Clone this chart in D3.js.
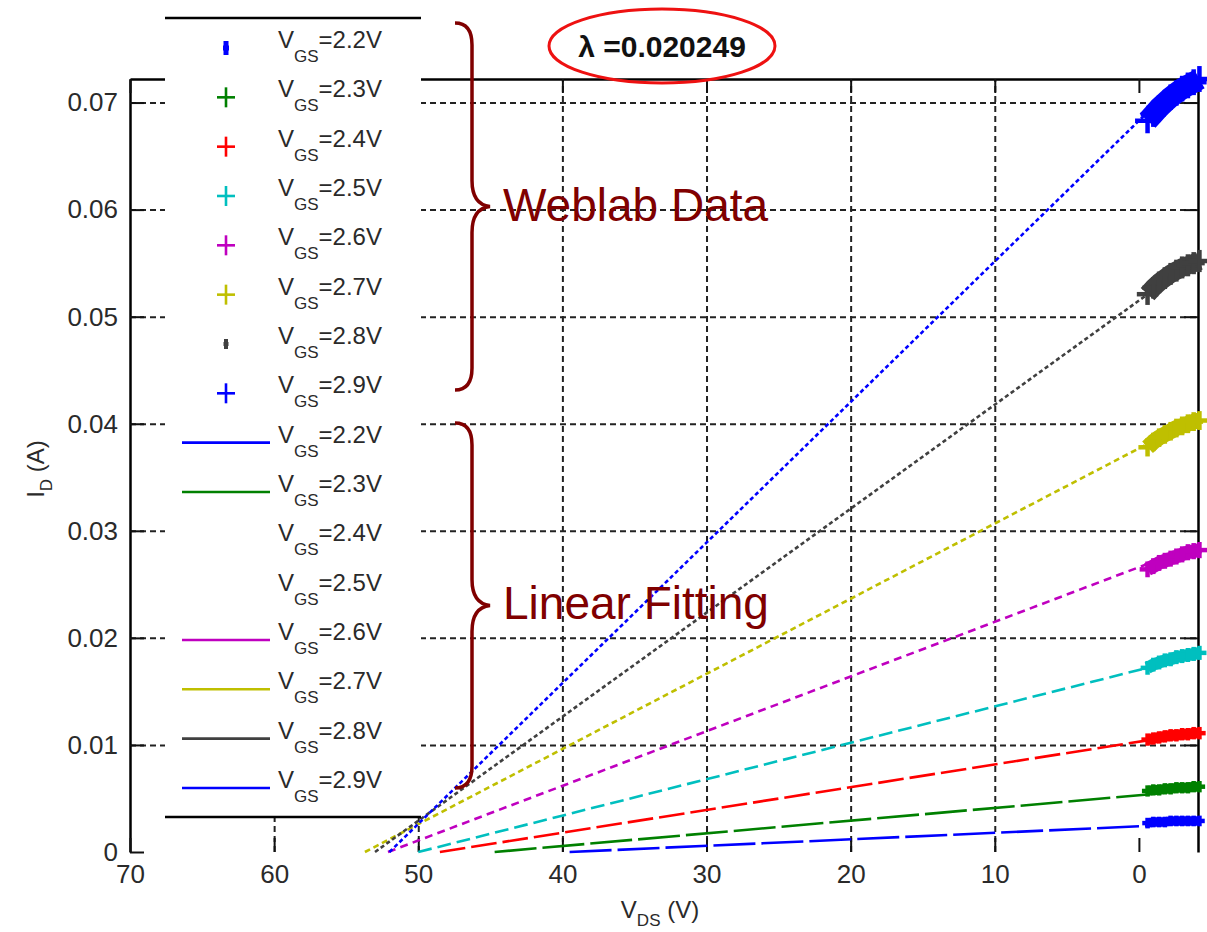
<!DOCTYPE html>
<html>
<head>
<meta charset="utf-8">
<script src="https://cdn.jsdelivr.net/npm/d3@7"></script>
<style>
  html, body { margin: 0; padding: 0; background: #fff; }
  svg { display: block; font-family: "Liberation Sans", Arial, sans-serif; }
  .ax .domain { stroke: #000; stroke-width: 2.5; }
  .ax line { stroke: #111; stroke-width: 2; }
  .ax text { fill: #2a2a2a; font-size: 26px; font-family: "Liberation Sans", Arial, sans-serif; }
  .grid line { stroke: #222; stroke-width: 2; stroke-dasharray: 6 4; }
  .grid .domain { display: none; }
</style>
</head>
<body>
<div id="chart"></div>
<script>
// ---- data ----
var vgsLabels = ["2.2V", "2.3V", "2.4V", "2.5V", "2.6V", "2.7V", "2.8V", "2.9V"];
var seriesColors = ["#0000ff", "#008000", "#ff0000", "#00bfbf", "#bf00bf", "#bfbf00", "#404040", "#0000ff"];
var markerKind = ["dot", "plus", "plus", "plus", "plus", "plus", "dot", "plus"];
var fitInLegend = [true, true, false, false, true, true, true, true];

// measured V_DS (V) of the Weblab points
var vds = [0.6, 1.0, 1.4, 1.8, 2.2, 2.6, 3.0, 3.4, 3.8, 4.2];
// measured I_D (A) per V_GS
var id22 = [0.0027, 0.0028, 0.0028, 0.0028, 0.0029, 0.0029, 0.0029, 0.0029, 0.0029, 0.0029];
var id23 = [0.0057, 0.0058, 0.0058, 0.0059, 0.0059, 0.0060, 0.0060, 0.0060, 0.0061, 0.0061];
var id24 = [0.0105, 0.0106, 0.0107, 0.0108, 0.0109, 0.0109, 0.0110, 0.0110, 0.0111, 0.0111];
var id25 = [0.0172, 0.0175, 0.0177, 0.0179, 0.0180, 0.0182, 0.0183, 0.0184, 0.0185, 0.0186];
var id26 = [0.0264, 0.0267, 0.0270, 0.0272, 0.0274, 0.0276, 0.0278, 0.0280, 0.0281, 0.0282];
var id27 = [0.0378, 0.0383, 0.0387, 0.0390, 0.0393, 0.0396, 0.0398, 0.0400, 0.0402, 0.0403];
var id28 = [0.0521, 0.0527, 0.0532, 0.0536, 0.0540, 0.0543, 0.0546, 0.0548, 0.0550, 0.0552];
var id29 = [0.0683, 0.0689, 0.0695, 0.0700, 0.0705, 0.0709, 0.0713, 0.0716, 0.0719, 0.0722];

// linear fits: V_DS where the line hits I_D = 0, and I_D at V_DS = 0
var fitStart = [-39.5, -44.7, -48.5, -50.0, -52.1, -53.7, -53.0, -52.0];
var fitI0 = [0.0024, 0.0053, 0.0103, 0.0170, 0.0266, 0.0377, 0.0515, 0.0683];
var fitEnd = 0.6;

var xTicks = [-70, -60, -50, -40, -30, -20, -10, 0];
var xGrid = [-60, -50, -40, -30, -20, -10];
var yTicks = [0, 0.01, 0.02, 0.03, 0.04, 0.05, 0.06, 0.07];
var lambdaText = "\u03bb =0.020249";

(function () {
  "use strict";
  var W = 1207, H = 932;
  var L = 130, R = 1198, T = 79, B = 852;
  var svg = d3.select("#chart").append("svg").attr("width", W).attr("height", H);

  var x = d3.scaleLinear().domain([-70, 4.1]).range([L, R]);
  var y = d3.scaleLinear().domain([0, 0.0722]).range([B, T]);

  var series = [id22, id23, id24, id25, id26, id27, id28, id29].map(function (vals, i) {
    return {
      label: vgsLabels[i], color: seriesColors[i],
      pts: vds.map(function (v, j) { return { v: v, i: vals[j] }; }),
      start: fitStart[i], i0: fitI0[i]
    };
  });

  // ---- grid (dashed) ----
  svg.append("g").attr("class", "grid")
    .attr("transform", "translate(" + L + ",0)")
    .call(d3.axisLeft(y).tickValues(yTicks.slice(1)).tickSize(-(R - L)).tickFormat(""));
  svg.append("g").attr("class", "grid")
    .attr("transform", "translate(0," + B + ")")
    .call(d3.axisBottom(x).tickValues(xGrid).tickSize(-(B - T)).tickFormat(""));

  // ---- axes: inward ticks all round, no bottom rule ----
  svg.append("g").attr("class", "ax")
    .attr("transform", "translate(" + L + ",0)")
    .call(d3.axisLeft(y).tickValues(yTicks).tickSize(-14).tickSizeOuter(0).tickPadding(12)
      .tickFormat(function (d) { return d === 0 ? "0" : d.toFixed(2); }));
  svg.append("g").attr("class", "ax")
    .attr("transform", "translate(" + R + ",0)")
    .call(d3.axisRight(y).tickValues(yTicks.slice(1)).tickSize(-14).tickSizeOuter(0).tickFormat(""));
  svg.append("g").attr("class", "ax")
    .attr("transform", "translate(0," + T + ")")
    .call(d3.axisTop(x).tickValues(xTicks).tickSize(-14).tickSizeOuter(0).tickFormat(""));
  var xb = svg.append("g").attr("class", "ax")
    .attr("transform", "translate(0," + B + ")")
    .call(d3.axisBottom(x).tickValues(xTicks).tickSize(-14).tickPadding(13)
      .tickFormat(function (d) { return Math.abs(d); }));
  xb.select(".domain").remove();

  // ---- fitted lines; dash length follows the slope to mimic the jagged raster ----
  var gLines = svg.append("g");
  series.forEach(function (s) {
    var x1 = x(s.start), y1 = y(0);
    var x2 = x(fitEnd), y2 = y(s.i0 * (1 - fitEnd / s.start));
    var slope = Math.abs((y2 - y1) / (x2 - x1));
    var period = Math.max(7, Math.min(48, 5 / slope));
    var gap = Math.min(period * 0.4, 6);
    gLines.append("line")
      .attr("x1", x1).attr("y1", y1).attr("x2", x2).attr("y2", y2)
      .attr("stroke", s.color).attr("stroke-width", 2.6)
      .attr("stroke-dasharray", (period - gap).toFixed(1) + " " + gap.toFixed(1));
  });

  // ---- Weblab points: a thick band through the points plus '+' markers -> solid blobs ----
  function plus(g, cx, cy, ax, ay, color, sw) {
    g.append("line").attr("x1", cx - ax).attr("x2", cx + ax).attr("y1", cy).attr("y2", cy)
      .attr("stroke", color).attr("stroke-width", sw);
    g.append("line").attr("x1", cx).attr("x2", cx).attr("y1", cy - ay).attr("y2", cy + ay)
      .attr("stroke", color).attr("stroke-width", sw);
  }
  var band = d3.line().x(function (p) { return x(p.v); }).y(function (p) { return y(p.i); });
  var gPts = svg.append("g");
  series.forEach(function (s) {
    var a = 5 + 100 * s.pts[0].i;
    gPts.append("path").datum(s.pts).attr("d", band)
      .attr("fill", "none").attr("stroke", s.color)
      .attr("stroke-width", a * 1.8).attr("stroke-linejoin", "round");
    s.pts.forEach(function (p) {
      var ap = 5 + 110 * p.i;
      plus(gPts, x(p.v), y(p.i), ap, ap, s.color, 4.5);
    });
  });

  // ---- legend (white box, top/bottom rules only) ----
  var lg = svg.append("g");
  lg.append("rect").attr("x", 165).attr("y", 18).attr("width", 256).attr("height", 799).attr("fill", "#fff");
  lg.append("line").attr("x1", 165).attr("x2", 421).attr("y1", 18).attr("y2", 18).attr("stroke", "#000").attr("stroke-width", 2.5);
  lg.append("line").attr("x1", 165).attr("x2", 421).attr("y1", 817).attr("y2", 817).attr("stroke", "#000").attr("stroke-width", 2.5);

  var rowY = function (k) { return 48 + k * 49.33; };
  function legendText(yy, lab) {
    var t = lg.append("text").attr("x", 278).attr("y", yy).attr("fill", "#2a2a2a").attr("font-size", 24);
    t.append("tspan").text("V");
    t.append("tspan").attr("font-size", 17).attr("dy", 14).text("GS");
    t.append("tspan").attr("dy", -14).text("=" + lab);
  }
  series.forEach(function (s, k) {
    var yy = rowY(k);
    if (markerKind[k] === "dot") {
      var big = k === 0;
      plus(lg, 226, yy, big ? 3 : 2.5, big ? 7 : 5, s.color, big ? 5 : 4);
    } else {
      plus(lg, 226, yy, 9, 10, s.color, 2.6);
    }
    legendText(yy, s.label);
  });
  series.forEach(function (s, k) {
    var yy = rowY(k + 8);
    if (fitInLegend[k]) {
      lg.append("line").attr("x1", 182).attr("x2", 270).attr("y1", yy).attr("y2", yy)
        .attr("stroke", s.color).attr("stroke-width", 2.6);
    }
    legendText(yy, s.label);
  });

  // ---- braces + annotations ----
  function brace(top, bot) {
    var mid = (top + bot) / 2;
    var p = "M455," + top + " Q472," + top + " 472," + (top + 22) +
      " L472," + (mid - 26) + " Q472," + (mid - 2) + " 490," + mid +
      " Q472," + (mid + 2) + " 472," + (mid + 26) +
      " L472," + (bot - 22) + " Q472," + bot + " 455," + bot;
    svg.append("path").attr("d", p).attr("fill", "none")
      .attr("stroke", "#800000").attr("stroke-width", 3.5);
  }
  brace(23, 390);
  brace(423, 788);
  svg.append("text").attr("x", 503).attr("y", 221).attr("fill", "#800000")
    .attr("font-size", 46).text("Weblab Data");
  svg.append("text").attr("x", 503).attr("y", 619).attr("fill", "#800000")
    .attr("font-size", 46).text("Linear Fitting");

  svg.append("ellipse").attr("cx", 662).attr("cy", 46).attr("rx", 113).attr("ry", 37)
    .attr("fill", "none").attr("stroke", "#ee1111").attr("stroke-width", 3);
  svg.append("text").attr("x", 662).attr("y", 57).attr("text-anchor", "middle")
    .attr("fill", "#111").attr("font-size", 30).attr("font-weight", "bold").text(lambdaText);

  // ---- axis titles ----
  var xt = svg.append("text").attr("x", 660).attr("y", 918).attr("text-anchor", "middle")
    .attr("fill", "#2a2a2a").attr("font-size", 24);
  xt.append("tspan").text("V");
  xt.append("tspan").attr("font-size", 17).attr("dy", 8).text("DS");
  xt.append("tspan").attr("dy", -8).text(" (V)");

  var yt = svg.append("text").attr("transform", "translate(44,469) rotate(-90)")
    .attr("text-anchor", "middle").attr("fill", "#2a2a2a").attr("font-size", 24);
  yt.append("tspan").text("I");
  yt.append("tspan").attr("font-size", 17).attr("dy", 8).text("D");
  yt.append("tspan").attr("dy", -8).text(" (A)");
})();
</script>
</body>
</html>
